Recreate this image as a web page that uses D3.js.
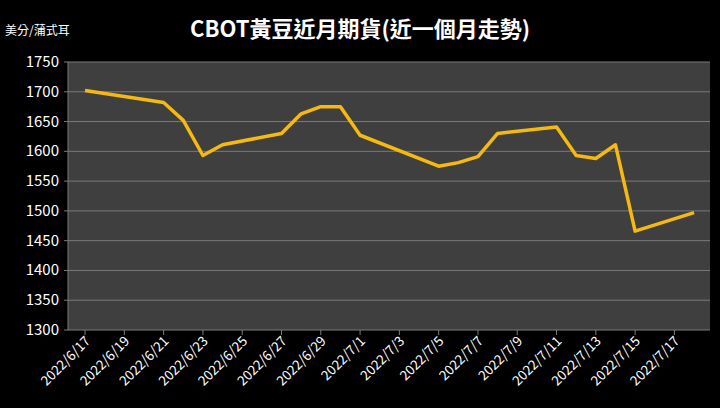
<!DOCTYPE html>
<html><head><meta charset="utf-8">
<script src="https://cdn.jsdelivr.net/npm/d3@7"></script>
<style>body{margin:0;background:#000;}</style>
</head><body>
<script>
const width = 720, height = 408;
const dates = ['2022-06-17','2022-06-21','2022-06-22','2022-06-23','2022-06-24','2022-06-27','2022-06-28','2022-06-29','2022-06-30','2022-07-01','2022-07-05','2022-07-06','2022-07-07','2022-07-08','2022-07-11','2022-07-12','2022-07-13','2022-07-14','2022-07-15','2022-07-18'];
const prices = [1702,1682,1652,1593,1611,1630,1663,1675,1675,1627,1575,1581,1591,1630,1641,1593,1588,1611,1466,1497];
const yTicks = [1300,1350,1400,1450,1500,1550,1600,1650,1700,1750];

const parse = d3.timeParse('%Y-%m-%d');
const svg = d3.select('body').append('svg').attr('width', width).attr('height', height)
  .style('font-family', '"Noto Sans CJK TC","Noto Sans",sans-serif');
svg.append('rect').attr('width', width).attr('height', height).attr('fill', '#000');

const x = d3.scaleTime().domain([parse('2022-06-16'), parse('2022-07-19')]).range([65.4, 713.7]);
const y = d3.scaleLinear().domain([1300, 1750]).range([330, 62]);

svg.append('rect').attr('x', 68).attr('y', 62).attr('width', 642).attr('height', 268).attr('fill', '#3f3f3f');

svg.append('g').selectAll('line').data(yTicks).enter().append('line')
  .attr('x1', 64).attr('x2', 710).attr('y1', d => y(d)).attr('y2', d => y(d))
  .attr('stroke', '#7a7a7a').attr('stroke-width', 1);
svg.append('line').attr('x1', 68).attr('x2', 68).attr('y1', 62).attr('y2', 330).attr('stroke', '#7a7a7a');

svg.append('g').selectAll('text').data(yTicks).enter().append('text')
  .attr('x', 59).attr('y', d => y(d) + 5).attr('text-anchor', 'end')
  .attr('fill', '#fff').attr('font-size', 15).text(d => d);

const xTicks = d3.timeDay.range(parse('2022-06-17'), parse('2022-07-18'), 2);
const fmt = d3.timeFormat('%Y/%-m/%-d');
svg.append('g').selectAll('line').data(xTicks).enter().append('line')
  .attr('x1', d => x(d)).attr('x2', d => x(d)).attr('y1', 330).attr('y2', 335).attr('stroke', '#7a7a7a');
svg.append('g').selectAll('text').data(xTicks).enter().append('text')
  .attr('transform', d => `translate(${x(d) + 6},${342}) rotate(-45)`)
  .attr('text-anchor', 'end').attr('fill', '#fff').attr('font-size', 13.5).text(d => fmt(d));

const line = d3.line().x((d, i) => x(parse(dates[i]))).y(d => y(d));
svg.append('path').datum(prices).attr('d', line).attr('fill', 'none')
  .attr('stroke', '#f5b90f').attr('stroke-width', 3.5).attr('stroke-linejoin', 'round');

svg.append('text').attr('x', 360).attr('y', 37).attr('text-anchor', 'middle')
  .attr('fill', '#fff').attr('font-size', 22).attr('font-weight', 'bold').text('CBOT黃豆近月期貨(近一個月走勢)');
svg.append('text').attr('x', 5).attr('y', 35).attr('fill', '#fff').attr('font-size', 12).text('美分/蒲式耳');
</script>
</body></html>
